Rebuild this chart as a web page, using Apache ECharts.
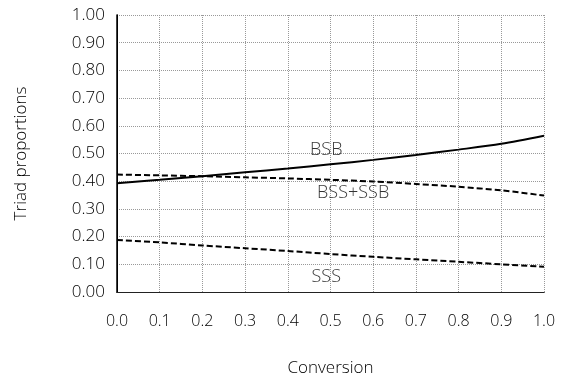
<!DOCTYPE html>
<html>
<head>
<meta charset="utf-8">
<script src="https://cdn.jsdelivr.net/npm/echarts@6/dist/echarts.min.js"></script>
<style>
html,body{margin:0;padding:0;background:#fff;}
#chart{width:561px;height:374px;}
</style>
</head>
<body>
<div id="chart"></div>
<script>
var conversion = [0.0, 0.1, 0.2, 0.3, 0.4, 0.5, 0.6, 0.7, 0.8, 0.9, 1.0];
var bsb    = [0.393, 0.405, 0.418, 0.432, 0.446, 0.461, 0.477, 0.495, 0.514, 0.535, 0.564];
var bssSsb = [0.424, 0.421, 0.418, 0.414, 0.410, 0.405, 0.399, 0.390, 0.380, 0.367, 0.348];
var sss    = [0.188, 0.179, 0.168, 0.158, 0.148, 0.137, 0.127, 0.118, 0.109, 0.100, 0.091];
var seriesNames = ['BSB', 'BSS+SSB', 'SSS'];
var labelX = [0.49, 0.553, 0.49];
var labelY = [0.513, 0.357, 0.055];

function pairs(ys) { return conversion.map(function (x, i) { return [x, ys[i]]; }); }

var font = 'Open Sans';
var chart = echarts.init(document.getElementById('chart'));

function mk(name, ys, type) {
  return {
    name: name,
    type: 'line',
    data: pairs(ys),
    showSymbol: false,
    symbol: 'none',
    smooth: 0.3,
    lineStyle: { color: '#000', width: 2, type: type },
    z: 3
  };
}

var gridLine = { show: true, lineStyle: { color: '#999', type: 'dotted', width: 1 } };

chart.setOption({
  animation: false,
  backgroundColor: '#fff',
  grid: { left: 117, right: 17, top: 15, bottom: 82, outerBoundsMode: 'none', containLabel: false },
  xAxis: [{
    type: 'value', min: 0, max: 1, interval: 0.1,
    name: 'Conversion', nameLocation: 'middle', nameGap: 68,
    nameTextStyle: { color: '#000', fontFamily: font, fontWeight: 300, fontSize: 17 },
    axisLine: { show: true, lineStyle: { color: '#000', width: 1 } },
    axisTick: { show: false },
    axisLabel: { color: '#000', fontFamily: font, fontWeight: 300, fontSize: 16, margin: 21, formatter: function (v) { return v.toFixed(1); } },
    splitLine: gridLine
  }, {
    type: 'value', min: 0, max: 1, position: 'top',
    axisLine: { show: true, lineStyle: { color: '#222', width: 1 } },
    axisTick: { show: false }, axisLabel: { show: false }, splitLine: { show: false }
  }],
  yAxis: [{
    type: 'value', min: 0, max: 1, interval: 0.1,
    name: 'Triad proportions', nameLocation: 'middle', nameGap: 87, nameRotate: 90,
    nameTextStyle: { color: '#000', fontFamily: font, fontWeight: 300, fontSize: 17 },
    axisLine: { show: true, lineStyle: { color: '#000', width: 1 } },
    axisTick: { show: false },
    axisLabel: { color: '#000', fontFamily: font, fontWeight: 300, fontSize: 17, margin: 12, formatter: function (v) { return v.toFixed(2); } },
    splitLine: gridLine
  }, {
    type: 'value', min: 0, max: 1, position: 'right',
    axisLine: { show: true, lineStyle: { color: '#000', width: 1.5 } },
    axisTick: { show: false }, axisLabel: { show: false }, splitLine: { show: false }
  }],
  series: [
    mk(seriesNames[0], bsb, 'solid'),
    mk(seriesNames[1], bssSsb, [6, 3]),
    mk(seriesNames[2], sss, [6, 3]),
    {
      type: 'scatter',
      data: seriesNames.map(function (n, i) { return { name: n, value: [labelX[i], labelY[i]] }; }),
      symbol: 'circle',
      symbolSize: 1,
      itemStyle: { color: 'rgba(0,0,0,0)' },
      label: { show: true, position: 'inside', formatter: '{b}', color: '#000', fontFamily: font, fontWeight: 300, fontSize: 18 },
      silent: true,
      z: 4
    }
  ]
});
</script>
</body>
</html>
